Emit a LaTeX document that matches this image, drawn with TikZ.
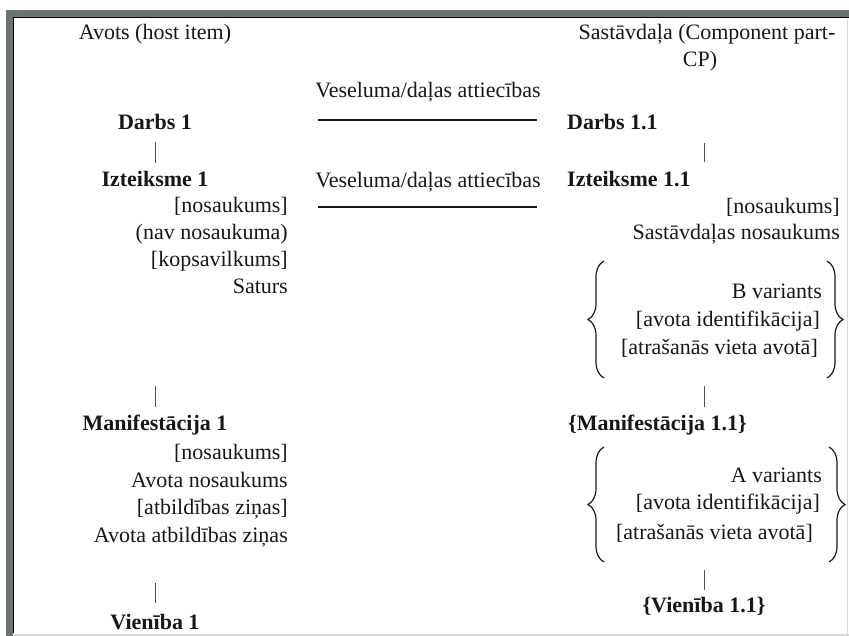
\documentclass[tikz,border=0pt]{standalone}
\usepackage{fontspec}
\setmainfont{Liberation Serif}
\usetikzlibrary{decorations.pathreplacing,calc}
\definecolor{framegray}{RGB}{108,116,116}
\definecolor{ink}{RGB}{25,22,23}
\begin{document}
\begin{tikzpicture}[x=1pt,y=-1pt,
  every node/.style={inner sep=0pt,text=ink,font=\fontsize{22}{26}\selectfont},
  head/.style={font=\fontsize{22}{26}\selectfont\bfseries},
  item/.style={anchor=base east},
  rel/.style={line width=1.7pt,draw=ink},
  bar/.style={line width=0.8pt,draw=ink!75},
  lbrace/.style={decorate,decoration={brace,amplitude=16pt},line width=1.2pt,draw=ink}]

\useasboundingbox (0,0) rectangle (849,636);

% table frame
\fill[framegray] (6,10) rectangle (849,17);
\fill[framegray] (6,10) rectangle (13,636);
\draw[black,line width=1pt] (849,18) -- (13,18) -- (13,633);
\draw[gray!30,line width=1pt] (847,19) -- (847,636);
\draw[gray!30,line width=2pt] (14,635) -- (849,635);

\coordinate (lc) at (155,0);
\coordinate (rc) at (704,0);

\node[anchor=base] (HI) at (155,40) {Avots (host item)};
\node[anchor=base] (CP1) at (707,40) {Sastāvdaļa (Component part-};
\node[anchor=base] (CP2) at (700,67) {CP)};

% host item
\node[head,anchor=base] (D1) at (155,130) {Darbs 1};
\node[head,anchor=base] (I1) at (155,187) {Izteiksme 1};
\node[item] (I1a) at (288,213) {[nosaukums]};
\node[item] (I1b) at (288,240) {(nav nosaukuma)};
\node[item] (I1c) at (288,267) {[kopsavilkums]};
\node[item] (I1d) at (288,294) {Saturs};
\node[head,anchor=base] (M1) at (155,430) {Manifestācija 1};
\node[item] (M1a) at (288,459) {[nosaukums]};
\node[item] (M1b) at (288,487) {Avota nosaukums};
\node[item] (M1c) at (288,514) {[atbildības ziņas]};
\node[item] (M1d) at (288,542) {Avota atbildības ziņas};
\node[head,anchor=base] (V1) at (155,629) {Vienība 1};

% component part
\node[head,anchor=base west] (D11) at (567,130) {Darbs 1.1};
\node[head,anchor=base west] (I11) at (567,187) {Izteiksme 1.1};
\node[item] (I11a) at (840,214) {[nosaukums]};
\node[item] (I11b) at (840,240) {Sastāvdaļas nosaukums};
\node[item] (B1) at (822,299) {B variants};
\node[item] (B2) at (820,327) {[avota identifikācija]};
\node[item] (B3) at (818,355) {[atrašanās vieta avotā]};
\node[head,anchor=base west] (M11) at (568,430) {\{Manifestācija 1.1\}};
\node[item] (A1) at (822,482) {A variants};
\node[item] (A2) at (820,509) {[avota identifikācija]};
\node[item] (A3) at (813,539) {[atrašanās vieta avotā]};
\node[head,anchor=base] (V11) at (704,612) {\{Vienība 1.1\}};

% whole/part relations
\node[anchor=base] (R1) at (428,98) {Veseluma/daļas attiecības};
\node[anchor=base] (R2) at (428,188) {Veseluma/daļas attiecības};
\draw[rel] ([xshift=-110pt,yshift=-22pt]R1.base) -- ([xshift=109pt,yshift=-22pt]R1.base);
\draw[rel] ([xshift=-110pt,yshift=-19pt]R2.base) -- ([xshift=109pt,yshift=-19pt]R2.base);

% hierarchy ticks
\draw[bar] ([yshift=-12pt]lc |- D1.base) -- ([yshift=24pt]lc |- I1.base);
\draw[bar] ([yshift=-92pt]lc |- I1d.base) -- ([yshift=23pt]lc |- M1.base);
\draw[bar] ([yshift=-41pt]lc |- M1d.base) -- ([yshift=26pt]lc |- V1.base);
\draw[bar] ([yshift=-13pt]rc |- D11.base) -- ([yshift=25pt]rc |- I11.base);
\draw[bar] ([yshift=-31pt]rc |- B3.base) -- ([yshift=23pt]rc |- M11.base);
\draw[bar] ([yshift=-31pt]rc |- A3.base) -- ([yshift=22pt]rc |- V11.base);

% braces
\draw[lbrace] (604,378) -- (604,261);
\draw[lbrace] (827,261) -- (827,378);
\draw[lbrace] (604,562) -- (604,447);
\draw[lbrace] (829,447) -- (829,562);

\end{tikzpicture}
\end{document}
